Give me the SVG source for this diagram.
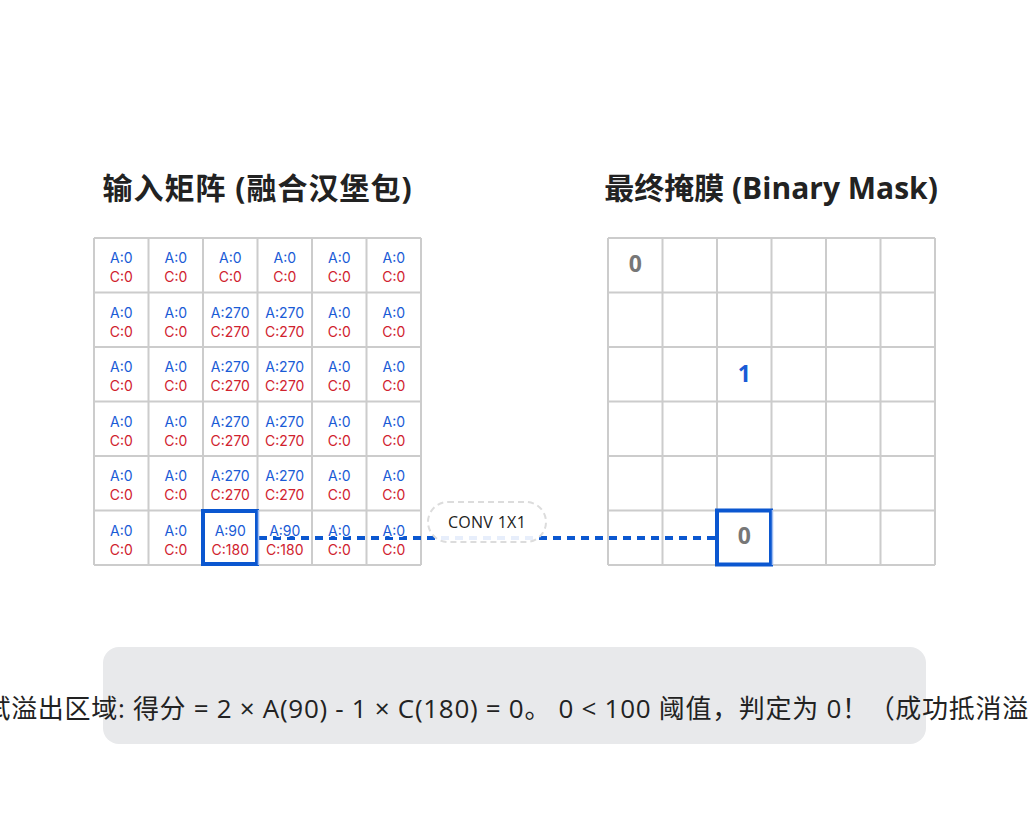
<svg xmlns="http://www.w3.org/2000/svg" width="1028" height="828" viewBox="0 0 1028 828">
<style>
.title{font-family:"Open Sans","Noto Sans CJK SC",sans-serif;font-size:30px;font-weight:700;fill:#222;text-anchor:middle}
.grid{fill:none;stroke:#cccccc;stroke-width:2}
.a{font-family:"Inter","Noto Sans CJK SC",sans-serif;font-size:14px;fill:#1a5bd6;text-anchor:middle;paint-order:stroke;stroke:#fff;stroke-width:2px}
.c{font-family:"Inter","Noto Sans CJK SC",sans-serif;font-size:14px;fill:#d0222e;text-anchor:middle;paint-order:stroke;stroke:#fff;stroke-width:2px}
.v0{font-family:"Open Sans",sans-serif;font-size:23px;font-weight:700;fill:#777;text-anchor:middle}
.v1{font-family:"Open Sans",sans-serif;font-size:23px;font-weight:700;fill:#1a5bd6;text-anchor:middle}
.hl{fill:none;stroke:#0b57d0;stroke-width:4}
.hlx{stroke:#9fbcf0;stroke-width:1.5}
.note{font-family:"Open Sans","Noto Sans CJK SC",sans-serif;font-size:26px;letter-spacing:0.7px;fill:#222;text-anchor:middle}
</style>
<rect width="1028" height="828" fill="#ffffff"/>
<text class="title" x="257.5" y="199" letter-spacing="1">输入矩阵 (融合汉堡包)</text>
<text class="title" x="771" y="199">最终掩膜 (Binary Mask)</text>

<g id="input-grid">
<path class="grid" d="M94 238V565M148.5 238V565M203 238V565M257.5 238V565M312 238V565M366.5 238V565M421 238V565M94 238H421M94 292.5H421M94 347H421M94 401.5H421M94 456H421M94 510.5H421M94 565H421"/>
</g>
<g id="mask-grid">
<path class="grid" d="M608 238V565M662.5 238V565M717 238V565M771.5 238V565M826 238V565M880.5 238V565M935 238V565M608 238H935M608 292.5H935M608 347H935M608 401.5H935M608 456H935M608 510.5H935M608 565H935"/>
</g>

<g id="connectors">
<line x1="259" y1="538" x2="716" y2="538" stroke="#0b57d0" stroke-width="4" stroke-dasharray="8 6"/>
</g>

<g id="input-cells">
<g id="r0"><text class="a" x="121.25" y="263">A:0</text><text class="c" x="121.25" y="282">C:0</text><text class="a" x="175.75" y="263">A:0</text><text class="c" x="175.75" y="282">C:0</text><text class="a" x="230.25" y="263">A:0</text><text class="c" x="230.25" y="282">C:0</text><text class="a" x="284.75" y="263">A:0</text><text class="c" x="284.75" y="282">C:0</text><text class="a" x="339.25" y="263">A:0</text><text class="c" x="339.25" y="282">C:0</text><text class="a" x="393.75" y="263">A:0</text><text class="c" x="393.75" y="282">C:0</text></g>
<g id="r1"><text class="a" x="121.25" y="317.5">A:0</text><text class="c" x="121.25" y="336.5">C:0</text><text class="a" x="175.75" y="317.5">A:0</text><text class="c" x="175.75" y="336.5">C:0</text><text class="a" x="230.25" y="317.5">A:270</text><text class="c" x="230.25" y="336.5">C:270</text><text class="a" x="284.75" y="317.5">A:270</text><text class="c" x="284.75" y="336.5">C:270</text><text class="a" x="339.25" y="317.5">A:0</text><text class="c" x="339.25" y="336.5">C:0</text><text class="a" x="393.75" y="317.5">A:0</text><text class="c" x="393.75" y="336.5">C:0</text></g>
<g id="r2"><text class="a" x="121.25" y="372">A:0</text><text class="c" x="121.25" y="391">C:0</text><text class="a" x="175.75" y="372">A:0</text><text class="c" x="175.75" y="391">C:0</text><text class="a" x="230.25" y="372">A:270</text><text class="c" x="230.25" y="391">C:270</text><text class="a" x="284.75" y="372">A:270</text><text class="c" x="284.75" y="391">C:270</text><text class="a" x="339.25" y="372">A:0</text><text class="c" x="339.25" y="391">C:0</text><text class="a" x="393.75" y="372">A:0</text><text class="c" x="393.75" y="391">C:0</text></g>
<g id="r3"><text class="a" x="121.25" y="426.5">A:0</text><text class="c" x="121.25" y="445.5">C:0</text><text class="a" x="175.75" y="426.5">A:0</text><text class="c" x="175.75" y="445.5">C:0</text><text class="a" x="230.25" y="426.5">A:270</text><text class="c" x="230.25" y="445.5">C:270</text><text class="a" x="284.75" y="426.5">A:270</text><text class="c" x="284.75" y="445.5">C:270</text><text class="a" x="339.25" y="426.5">A:0</text><text class="c" x="339.25" y="445.5">C:0</text><text class="a" x="393.75" y="426.5">A:0</text><text class="c" x="393.75" y="445.5">C:0</text></g>
<g id="r4"><text class="a" x="121.25" y="481">A:0</text><text class="c" x="121.25" y="500">C:0</text><text class="a" x="175.75" y="481">A:0</text><text class="c" x="175.75" y="500">C:0</text><text class="a" x="230.25" y="481">A:270</text><text class="c" x="230.25" y="500">C:270</text><text class="a" x="284.75" y="481">A:270</text><text class="c" x="284.75" y="500">C:270</text><text class="a" x="339.25" y="481">A:0</text><text class="c" x="339.25" y="500">C:0</text><text class="a" x="393.75" y="481">A:0</text><text class="c" x="393.75" y="500">C:0</text></g>
<g id="r5"><text class="a" x="121.25" y="535.5">A:0</text><text class="c" x="121.25" y="554.5">C:0</text><text class="a" x="175.75" y="535.5">A:0</text><text class="c" x="175.75" y="554.5">C:0</text><text class="a" x="230.25" y="535.5">A:90</text><text class="c" x="230.25" y="554.5">C:180</text><text class="a" x="284.75" y="535.5">A:90</text><text class="c" x="284.75" y="554.5">C:180</text><text class="a" x="339.25" y="535.5">A:0</text><text class="c" x="339.25" y="554.5">C:0</text><text class="a" x="393.75" y="535.5">A:0</text><text class="c" x="393.75" y="554.5">C:0</text></g>
</g>

<g id="input-highlight">
<rect class="hl" x="203" y="511" width="54" height="53"/>
<line class="hlx" x1="258.5" y1="510" x2="258.5" y2="565"/>
</g>

<g id="mask-values">
<text class="v0" x="635.25" y="272">0</text>
<text class="v1" x="744.25" y="382">1</text>
<text class="v0" x="744.25" y="544">0</text>
</g>

<g id="mask-highlight">
<rect class="hl" x="717" y="510.5" width="54" height="54"/>
<line class="hlx" x1="772.5" y1="510" x2="772.5" y2="565"/>
</g>

<g id="conv-label">
<rect x="428" y="502" width="118" height="40" rx="20" fill="#ffffff" fill-opacity="0.9" stroke="#dcdcdc" stroke-width="2" stroke-dasharray="6 4"/>
<text x="487" y="528" font-family="Open Sans, sans-serif" font-size="16" font-weight="500" letter-spacing="0.3" fill="#222" text-anchor="middle">CONV 1X1</text>
</g>

<g id="note">
<rect x="103" y="647" width="823" height="97" rx="16" fill="#e8e9eb"/>
<text class="note" x="520" y="718">测试溢出区域: 得分 = 2 × A(90) - 1 × C(180) = 0。 0 &lt; 100 阈值，判定为 0！（成功抵消溢出）</text>
</g>
</svg>
